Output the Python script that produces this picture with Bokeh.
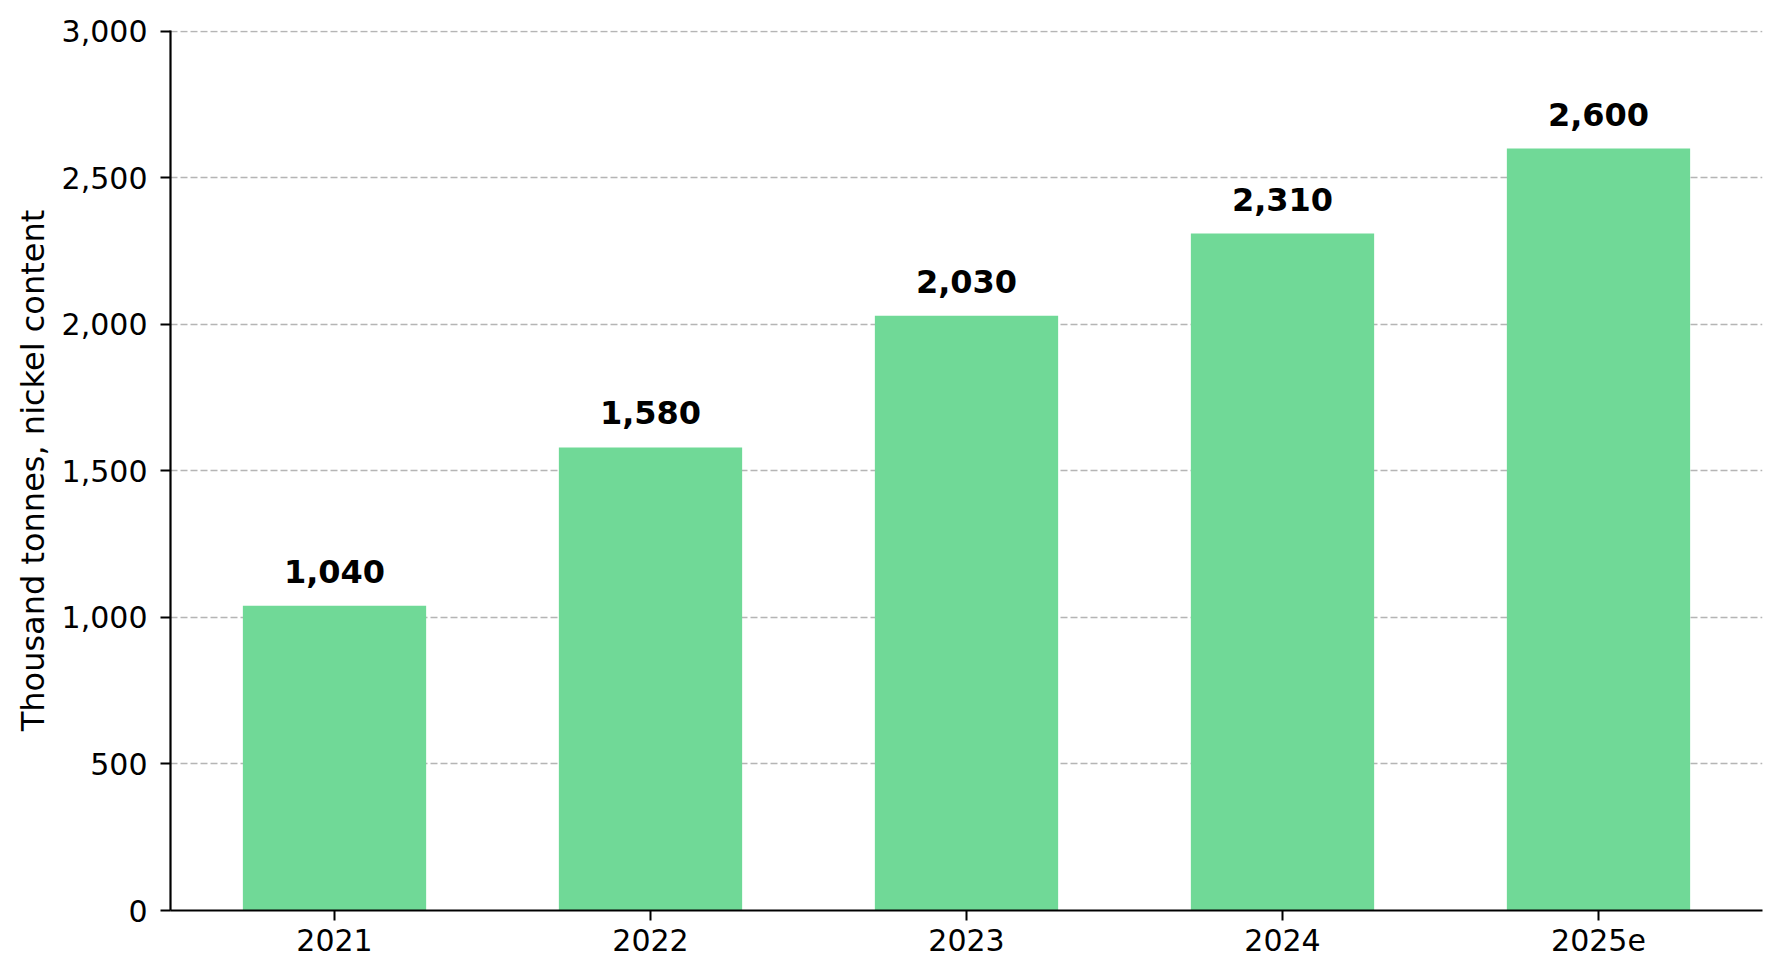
from bokeh.plotting import figure
from bokeh.models import ColumnDataSource, FactorRange, LabelSet, NumeralTickFormatter, FixedTicker, Range1d
from bokeh.core.properties import value
from bokeh.embed import file_html
from bokeh.resources import INLINE

years = ["2021", "2022", "2023", "2024", "2025e"]
values = [1040, 1580, 2030, 2310, 2600]
value_labels = ["1,040", "1,580", "2,030", "2,310", "2,600"]
y_ticks = [0, 500, 1000, 1500, 2000, 2500, 3000]

src = ColumnDataSource(dict(year=years, value=values, label=value_labels))

p = figure(
    x_range=FactorRange(factors=years, range_padding=0.019, range_padding_units="absolute"),
    y_range=Range1d(0, 3003),
    width=1765, height=962,
    output_backend="svg", toolbar_location=None,
    min_border_left=170, min_border_right=3, min_border_top=30, min_border_bottom=52,
)
p.outline_line_color = None

p.vbar(x="year", top="value", width=0.58, source=src, color="#70d997", line_color=None)

labels = LabelSet(x="year", y="value", text="label", source=src,
                  text_align="center", text_baseline="alphabetic", y_offset=23,
                  text_font=value("DejaVu Sans"), text_font_style="bold",
                  text_font_size="32px", text_color="black")
p.add_layout(labels)

# grid
p.xgrid.grid_line_color = None
p.ygrid.ticker = FixedTicker(ticks=y_ticks)
p.ygrid.grid_line_color = "#b5b5b5"
p.ygrid.grid_line_dash = "7 3"
p.ygrid.grid_line_width = 1.3

# axes
for ax in (p.xaxis[0], p.yaxis[0]):
    ax.axis_line_color = "black"
    ax.axis_line_width = 2.2
    ax.major_tick_line_color = "black"
    ax.major_tick_line_width = 2
    ax.major_tick_out = 10
    ax.major_tick_in = 0
    ax.minor_tick_line_color = None
    ax.major_label_text_font = "DejaVu Sans"
    ax.major_label_text_font_size = "30px"
    ax.major_label_text_color = "black"

p.yaxis.ticker = FixedTicker(ticks=y_ticks)
p.yaxis.formatter = NumeralTickFormatter(format="0,0")
p.yaxis.major_label_standoff = 13
p.yaxis.axis_label = "Thousand tonnes, nickel content"
p.yaxis.axis_label_text_font = "DejaVu Sans"
p.yaxis.axis_label_text_font_size = "32px"
p.yaxis.axis_label_text_font_style = "normal"
p.yaxis.axis_label_text_color = "black"
p.yaxis.axis_label_standoff = 7

p.xaxis.major_label_standoff = 8

open("out.html", "w").write(file_html(p, INLINE))
